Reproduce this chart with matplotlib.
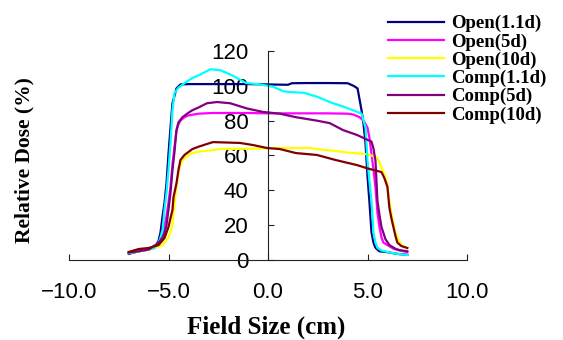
import matplotlib
matplotlib.use("Agg")
import matplotlib.pyplot as plt

# profile data (field position in cm, relative dose in %)
open11_x = [-7.0, -6.5, -6.0, -5.7, -5.5, -5.4, -5.3, -5.2, -5.1, -5.0, -4.9, -4.8, -4.6, -4.4, -4.0,
            -3.0, -2.0, -1.0, 0.0, 1.0, 1.2, 2.0, 3.0, 4.0, 4.3, 4.5, 4.7, 4.8, 4.9, 5.0, 5.1, 5.2,
            5.3, 5.4, 5.6, 6.0, 6.5, 7.0]
open11_y = [3.5, 5, 6, 7, 11, 16, 25, 33, 44, 61, 76, 90, 98.5, 100.8, 101,
            101, 101, 101, 100.8, 100.6, 101.5, 101.6, 101.6, 101.5, 100, 98.5, 86, 78, 67, 48, 33, 16,
            10, 7, 5, 4.5, 3.5, 3]

open5_x = [-7.0, -6.5, -6.0, -5.8, -5.5, -5.3, -5.1, -5.0, -4.9, -4.8, -4.7, -4.6, -4.5, -4.4, -4.2,
           -4.0, -3.5, -2.8, -2.0, -1.0, 0.0, 1.0, 2.0, 3.0, 4.0, 4.3, 4.6, 4.8, 5.0, 5.1, 5.2, 5.3,
           5.4, 5.5, 5.6, 5.7, 5.8, 6.0, 6.3, 6.6, 7.0]
open5_y = [4, 5, 6, 7, 8.6, 15, 25, 33, 42, 55, 65, 74, 78, 80, 82,
           83, 84, 84.4, 84.4, 84.4, 84.2, 84.2, 84.2, 84.2, 84, 83.5, 82, 80, 76, 70, 61, 52,
           42, 27, 19, 13, 10, 8.6, 6.5, 5.5, 4.6]

open10_x = [-7.0, -6.5, -6.0, -5.5, -5.3, -5.0, -4.9, -4.8, -4.7, -4.6, -4.5, -4.4, -4.2, -4.0, -3.8,
            -3.5, -3.0, -2.4, -1.5, -0.5, 0.5, 1.5, 2.1, 2.6, 3.4, 4.1, 4.8, 5.2, 5.5, 5.7, 5.85,
            6.0, 6.1, 6.2, 6.3, 6.4, 6.5, 6.7, 7.0]
open10_y = [4, 5, 6, 7.5, 8.6, 13, 16, 21, 32, 42, 50, 55, 58.5, 60, 61.4,
            62.2, 62.8, 63.7, 63.8, 64, 64.3, 64.3, 64.3, 63.5, 62.6, 61.5, 61, 60, 58.5, 53.4, 49,
            44, 33, 27, 21, 16, 13, 8.6, 6.9]

comp11_x = [-7.0, -6.5, -6.2, -5.7, -5.5, -5.4, -5.3, -5.2, -5.1, -5.0, -4.9, -4.8, -4.7, -4.5, -4.2,
            -3.8, -3.4, -2.9, -2.4, -1.8, -1.1, -0.5, 0.25, 0.75, 1.0, 1.8, 2.5, 3.1, 3.8, 4.5, 4.7,
            4.9, 5.0, 5.1, 5.2, 5.3, 5.4, 5.5, 5.7, 6.0, 6.5, 7.0]
comp11_y = [4, 5, 5.7, 6.9, 10, 13, 17, 29, 38.5, 51.7, 67, 86, 95.8, 99, 101.5,
            104.5, 106.5, 109.5, 109, 106, 101.6, 101, 99.5, 97, 96.5, 96, 93.6, 90.7, 88, 85, 84,
            76, 57, 45, 34, 15.5, 10, 7, 5.5, 4.6, 3.5, 2.9]

comp5_x = [-7.0, -6.5, -6.0, -5.5, -5.3, -5.2, -5.1, -5.0, -4.9, -4.8, -4.7, -4.6, -4.5, -4.3, -4.0,
           -3.8, -3.5, -3.07, -2.56, -1.9, -1.06, -0.25, 0.6, 1.4, 2.46, 3.1, 3.77, 4.47, 5.0, 5.2,
           5.3, 5.4, 5.5, 5.6, 5.7, 5.9, 6.1, 6.4, 6.6, 7.0]
comp5_y = [4.3, 5, 6, 9.8, 13, 15.5, 20, 29, 38.5, 51.7, 62, 74.6, 79, 82, 84.5,
           86, 87.5, 90, 90.7, 90, 87, 85, 84, 82, 80, 78.6, 74.6, 71.8, 69, 68,
           64, 57, 34, 26, 19, 12, 8.6, 6.5, 5.7, 5]

comp10_x = [-7.0, -6.5, -6.0, -5.5, -5.2, -5.0, -4.9, -4.8, -4.75, -4.6, -4.5, -4.4, -4.2, -3.8, -3.5,
            -3.07, -2.76, -1.4, -0.75, -0.05, 0.6, 1.4, 2.46, 3.4, 4.47, 5.0, 5.7, 5.85, 6.0, 6.1,
            6.2, 6.3, 6.4, 6.5, 6.7, 7.0]
comp10_y = [4.6, 6.3, 6.9, 8.6, 12.6, 19, 24, 28.7, 36, 44, 51.7, 57.4, 60.3, 63.7, 65,
            66.6, 67.7, 67.2, 66, 64.3, 63.7, 61.4, 60.3, 57.4, 54.5, 52.6, 50.5, 47, 42, 30,
            24, 19, 14, 10, 8, 6.9]

labels = ["Open(1.1d)", "Open(5d)", "Open(10d)", "Comp(1.1d)", "Comp(5d)", "Comp(10d)"]
colors = ["#000080", "#FF00FF", "#FFFF00", "#00FFFF", "#800080", "#800000"]

x_ticks = [-10, -5, 0, 5, 10]
x_ticklabels = ["\u221210.0", "\u22125.0", "0.0", "5.0", "10.0"]
y_ticks = [0, 20, 40, 60, 80, 100, 120]

series = [(open11_x, open11_y), (open5_x, open5_y), (open10_x, open10_y),
          (comp11_x, comp11_y), (comp5_x, comp5_y), (comp10_x, comp10_y)]

fig = plt.figure(figsize=(5.63, 3.4), dpi=100)
ax = fig.add_axes([69 / 563, 80 / 340, 398 / 563, 209 / 340])

for (xs, ys), lab, col in zip(series, labels, colors):
    ax.plot(xs, ys, color=col, lw=1.6, label=lab)

ax.set_xlim(-10, 10)
ax.set_ylim(0, 120)

# Excel style: y axis crosses at x = 0
ax.spines['left'].set_position(('data', 0))
ax.spines['top'].set_visible(False)
ax.spines['right'].set_visible(False)
for s in ['left', 'bottom']:
    ax.spines[s].set_linewidth(0.8)
    ax.spines[s].set_color('#222222')

ax.set_xticks(x_ticks)
ax.set_xticklabels(x_ticklabels)
ax.set_yticks(y_ticks)
ax.tick_params(axis='x', direction='in', length=4.5, width=0.8, pad=16,
               labelsize=16, color='#222222')
ax.tick_params(axis='y', direction='in', length=4, width=0.8, pad=14,
               labelsize=16, color='#222222')
for t in ax.get_xticklabels() + ax.get_yticklabels():
    t.set_fontfamily('Liberation Sans')

fig.text(266 / 563, 1 - 327 / 340, "Field Size (cm)", ha='center', va='center',
         fontsize=18, fontweight='bold', family='Liberation Serif')
fig.text(24 / 563, 1 - 160 / 340, "Relative Dose (%)", ha='center', va='center',
         rotation=90, fontsize=15.5, fontweight='bold', family='Liberation Serif')

leg = fig.legend(loc='upper left', bbox_to_anchor=(388 / 563, 1 - 15 / 340),
                 frameon=False, borderpad=0, borderaxespad=0, handlelength=3.0,
                 handletextpad=0.35, labelspacing=0.05,
                 prop={'family': 'Liberation Serif', 'weight': 'bold', 'size': 13.5})
for line in leg.get_lines():
    line.set_linewidth(1.6)

fig.savefig("out.png", dpi=100)
